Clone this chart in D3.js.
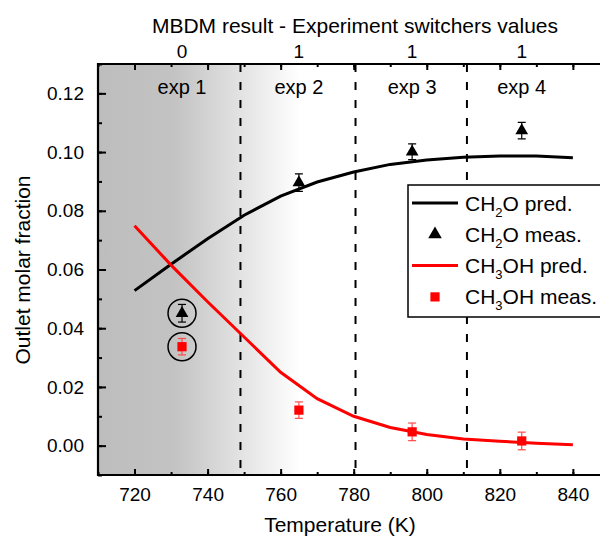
<!DOCTYPE html>
<html><head><meta charset="utf-8">
<script src="https://cdn.jsdelivr.net/npm/d3@7"></script>
<style>body{margin:0;background:#fff}svg{display:block;font-family:"Liberation Sans",Arial,sans-serif}</style>
</head><body><svg id="c" width="600" height="538"></svg>
<script>
// ---- data ----
const predT = [720,730,740,750,760,770,780,790,800,810,820,830,840];
const ch2oPred = [0.0528,0.0618,0.0705,0.0785,0.0850,0.0898,0.0932,0.0958,0.0973,0.0982,0.0987,0.0987,0.0981];
const ch3ohPred = [0.0749,0.0615,0.0490,0.0370,0.0250,0.0160,0.0100,0.0062,0.0038,0.0023,0.0015,0.0008,0.0003];
const measT = [733,765,796,826];
const ch2oMeas = [0.0451,0.0896,0.1001,0.1073];
const ch2oErr = [0.0030,0.0030,0.0027,0.0028];
const ch3ohMeas = [0.0337,0.0121,0.0047,0.0016];
const ch3ohErr = [0.0028,0.0028,0.0030,0.0030];
const switchers = ["0","1","1","1"];
const expLabels = ["exp 1","exp 2","exp 3","exp 4"];
const circled = [0];
const xTicksMajor = [720,740,760,780,800,820,840];
const yTicksMajor = [0,0.02,0.04,0.06,0.08,0.10,0.12];
const legendItems = [
  {base:"CH", sub:"2", rest:"O pred.", kind:"line", color:"#000"},
  {base:"CH", sub:"2", rest:"O meas.", kind:"tri", color:"#000"},
  {base:"CH", sub:"3", rest:"OH pred.", kind:"line", color:"#ff0000"},
  {base:"CH", sub:"3", rest:"OH meas.", kind:"sq", color:"#ff0000"}
];

// ---- layout ----
const svg = d3.select("#c");
const L = 98, R = 609.4, T = 64, B = 475;
const x = d3.scaleLinear().domain([710,850]).range([L,R]);
const y = d3.scaleLinear().domain([-0.01,0.13]).range([B,T]);

// background gradient
const defs = svg.append("defs");
const g = defs.append("linearGradient").attr("id","bg").attr("gradientUnits","userSpaceOnUse")
  .attr("x1",L).attr("x2",300).attr("y1",0).attr("y2",0);
g.append("stop").attr("offset","0").attr("stop-color","#bdbdbd");
g.append("stop").attr("offset","0.38").attr("stop-color","#c3c3c3");
g.append("stop").attr("offset","1").attr("stop-color","#ffffff");
defs.append("clipPath").attr("id","clip").append("rect").attr("x",L).attr("y",T).attr("width",R-L).attr("height",B-T);
svg.append("rect").attr("x",L).attr("y",T).attr("width",R-L).attr("height",B-T).attr("fill","url(#bg)");

const plot = svg.append("g").attr("clip-path","url(#clip)");

// dashed separators at midpoints between experiments
const mids = d3.pairs(measT).map(([a,b])=>(a+b)/2);
plot.selectAll("line.sep").data(mids).join("line").attr("class","sep")
  .attr("x1",d=>x(d)).attr("x2",d=>x(d)).attr("y1",T).attr("y2",B)
  .attr("stroke","#000").attr("stroke-width",2).attr("stroke-dasharray","8,10");

// exp labels
svg.selectAll("text.exp").data(expLabels).join("text").attr("class","exp")
  .attr("x",(d,i)=>x(measT[i])).attr("y",94).attr("text-anchor","middle")
  .attr("font-size",20).text(d=>d);

// lines
const line = (vals)=>d3.line().x((d,i)=>x(predT[i])).y(d=>y(d))(vals);
plot.append("path").attr("d",line(ch2oPred)).attr("fill","none").attr("stroke","#000").attr("stroke-width",3);
plot.append("path").attr("d",line(ch3ohPred)).attr("fill","none").attr("stroke","#ff0000").attr("stroke-width",3);

// error bars + markers
function errbars(vals, errs, color){
  const gg = plot.append("g").attr("stroke",color).attr("stroke-width",1.2);
  vals.forEach((v,i)=>{
    const cx = x(measT[i]);
    gg.append("line").attr("x1",cx).attr("x2",cx).attr("y1",y(v-errs[i])).attr("y2",y(v+errs[i]));
    [v-errs[i], v+errs[i]].forEach(e=>gg.append("line").attr("x1",cx-4).attr("x2",cx+4).attr("y1",y(e)).attr("y2",y(e)));
  });
}
errbars(ch2oMeas, ch2oErr, "#000");
errbars(ch3ohMeas, ch3ohErr, "#ff4a4a");
plot.selectAll("path.tri").data(ch2oMeas).join("path").attr("class","tri")
  .attr("transform",(d,i)=>`translate(${x(measT[i])},${y(d)})`)
  .attr("d",d3.symbol().type(d3.symbolTriangle).size(70)).attr("fill","#000");
plot.selectAll("path.sq").data(ch3ohMeas).join("path").attr("class","sq")
  .attr("transform",(d,i)=>`translate(${x(measT[i])},${y(d)})`)
  .attr("d",d3.symbol().type(d3.symbolSquare).size(85)).attr("fill","#ff0000");

// circles around experiment 1 points
circled.forEach(i=>{
  [ch2oMeas[i], ch3ohMeas[i]].forEach(v=>{
    plot.append("circle").attr("cx",x(measT[i])).attr("cy",y(v)).attr("r",14)
      .attr("fill","none").attr("stroke","#000").attr("stroke-width",1.5);
  });
});

// axes
const xMinor = d3.range(710,851,10);
const yMinor = d3.range(-0.01,0.1301,0.01);
function styleAxis(sel){ sel.select(".domain").remove(); sel.selectAll("line").attr("stroke","#000").attr("stroke-width",2); sel.selectAll("text").attr("font-size",19).attr("fill","#000").attr("font-family","Liberation Sans, Arial, sans-serif"); }
svg.append("g").attr("transform",`translate(0,${B})`).call(d3.axisBottom(x).tickValues(xMinor).tickSize(-3).tickFormat("")).call(styleAxis);
svg.append("g").attr("transform",`translate(0,${B})`).call(d3.axisBottom(x).tickValues(xTicksMajor).tickSizeInner(-6).tickSizeOuter(0).tickPadding(13).tickFormat(d3.format("d"))).call(styleAxis);
svg.append("g").attr("transform",`translate(0,${T})`).call(d3.axisTop(x).tickValues(xMinor).tickSize(-3).tickFormat("")).call(styleAxis);
svg.append("g").attr("transform",`translate(0,${T})`).call(d3.axisTop(x).tickValues(xTicksMajor).tickSize(-6).tickFormat("")).call(styleAxis);
svg.append("g").attr("transform",`translate(${L},0)`).call(d3.axisLeft(y).tickValues(yMinor).tickSize(-4).tickFormat("")).call(styleAxis);
svg.append("g").attr("transform",`translate(${L},0)`).call(d3.axisLeft(y).tickValues(yTicksMajor).tickSizeInner(-8).tickSizeOuter(0).tickPadding(14).tickFormat(d3.format(".2f"))).call(styleAxis);

// frame
svg.append("path").attr("d",`M${R},${T}H${L}V${B}H${R}`).attr("fill","none").attr("stroke","#000").attr("stroke-width",2.2);

// top switcher labels
svg.selectAll("text.sw").data(switchers).join("text").attr("class","sw")
  .attr("x",(d,i)=>x(measT[i])).attr("y",58).attr("text-anchor","middle").attr("font-size",19).text(d=>d);
svg.append("text").attr("x",355).attr("y",33).attr("text-anchor","middle").attr("font-size",21)
  .text("MBDM result - Experiment switchers values");

// axis titles
svg.append("text").attr("x",340).attr("y",532).attr("text-anchor","middle").attr("font-size",21).text("Temperature (K)");
svg.append("text").attr("transform","translate(30,270) rotate(-90)").attr("text-anchor","middle").attr("font-size",21).text("Outlet molar fraction");

// legend
const lg = svg.append("g");
lg.append("rect").attr("x",408).attr("y",185).attr("width",230).attr("height",132).attr("fill","#fff").attr("stroke","#000").attr("stroke-width",1.5);
legendItems.forEach((it,i)=>{
  const cy = 203 + i*31.3;
  if(it.kind==="line") lg.append("line").attr("x1",412).attr("x2",458).attr("y1",cy).attr("y2",cy).attr("stroke",it.color).attr("stroke-width",3);
  else lg.append("path").attr("transform",`translate(435,${cy})`).attr("d",d3.symbol().type(it.kind==="tri"?d3.symbolTriangle:d3.symbolSquare).size(it.kind==="tri"?80:85)).attr("fill",it.color);
  const t = lg.append("text").attr("x",465).attr("y",cy+7.5).attr("font-size",21);
  t.append("tspan").text(it.base);
  t.append("tspan").attr("font-size",13).attr("dy",6).text(it.sub);
  t.append("tspan").attr("dy",-6).text(it.rest);
});
</script></body></html>
